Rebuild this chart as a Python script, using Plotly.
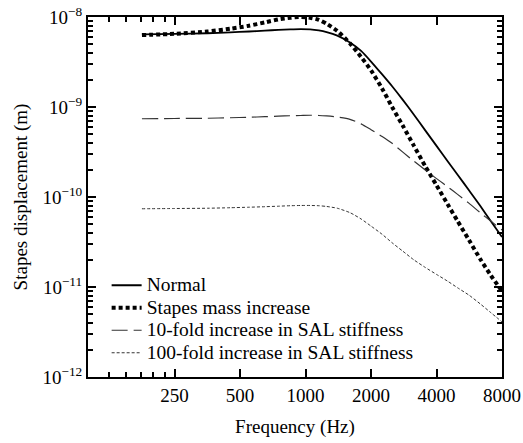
import plotly.graph_objects as go

freq = [177, 250, 354, 450, 550, 650, 750, 850, 950, 1050, 1150, 1250, 1400, 1600,
        1800, 2000, 2250, 2500, 2800, 3150, 3550, 4000, 4500, 5000, 5650, 6350, 7100, 8000]

normal = [6.4e-9, 6.5e-9, 6.6e-9, 6.75e-9, 6.9e-9, 7.05e-9, 7.2e-9, 7.3e-9, 7.35e-9, 7.3e-9,
          7.1e-9, 6.8e-9, 6.2e-9, 5.2e-9, 4.2e-9, 3.2e-9, 2.3e-9, 1.7e-9, 1.2e-9, 8.2e-10,
          5.5e-10, 3.7e-10, 2.5e-10, 1.77e-10, 1.18e-10, 8.0e-11, 5.4e-11, 3.6e-11]

stapes_mass = [6.3e-9, 6.5e-9, 6.9e-9, 7.4e-9, 8.0e-9, 8.7e-9, 9.4e-9, 9.8e-9, 1.0e-8, 9.8e-9,
               9.3e-9, 8.4e-9, 7.0e-9, 5.1e-9, 3.6e-9, 2.55e-9, 1.6e-9, 1.0e-9, 6.2e-10, 3.7e-10,
               2.2e-10, 1.35e-10, 8.3e-11, 5.4e-11, 3.3e-11, 2.05e-11, 1.35e-11, 9e-12]

sal_10 = [7.4e-10, 7.45e-10, 7.5e-10, 7.6e-10, 7.7e-10, 7.8e-10, 7.9e-10, 8.0e-10, 8.05e-10, 8.1e-10,
          8.05e-10, 7.95e-10, 7.75e-10, 7.3e-10, 6.5e-10, 5.6e-10, 4.7e-10, 3.95e-10, 3.15e-10, 2.5e-10,
          2.0e-10, 1.6e-10, 1.3e-10, 1.07e-10, 8.5e-11, 6.7e-11, 5.4e-11, 4.3e-11]

sal_100 = [7.4e-11, 7.45e-11, 7.5e-11, 7.6e-11, 7.7e-11, 7.8e-11, 7.9e-11, 8.0e-11, 8.05e-11, 8.05e-11,
           8.0e-11, 7.85e-11, 7.5e-11, 6.7e-11, 5.7e-11, 4.75e-11, 3.85e-11, 3.1e-11, 2.5e-11, 2.0e-11,
           1.65e-11, 1.38e-11, 1.16e-11, 9.8e-12, 8.1e-12, 6.5e-12, 5.2e-12, 4.1e-12]

series_names = ["Normal", "Stapes mass increase",
                "10-fold increase in SAL stiffness", "100-fold increase in SAL stiffness"]

x_tickvals = [250, 500, 1000, 2000, 4000, 8000]
x_ticktext = ["250", "500", "1000", "2000", "4000", "8000"]
x_minor = [125, 150, 175, 200, 225]
y_tickvals = [1e-12, 1e-11, 1e-10, 1e-9, 1e-8]
y_ticktext = ["10<sup>\u221212</sup>", "10<sup>\u221211</sup>", "10<sup>\u221210</sup>",
              "10<sup>\u22129</sup>", "10<sup>\u22128</sup>"]
y_minor = [m * 10.0 ** e for e in range(-12, -8) for m in range(2, 10)]

X_RANGE = [2, 3.90309]
Y_RANGE = [-12, -8]
FONT = "Liberation Serif"
AX = "#000000"


def leg(name):
    return "<span style='font-size:19.5px'>" + name + "</span>"


fig = go.Figure()
fig.add_trace(go.Scatter(x=freq, y=normal, mode="lines", name=leg(series_names[0]),
                         line=dict(color="black", width=1.8, shape="spline", smoothing=0.6)))
fig.add_trace(go.Scatter(x=freq, y=stapes_mass, mode="lines", name=leg(series_names[1]),
                         line=dict(color="black", width=4, dash="4px,3px", shape="spline", smoothing=0.6)))
fig.add_trace(go.Scatter(x=freq, y=sal_10, mode="lines", name=leg(series_names[2]),
                         line=dict(color="#333333", width=1.2, dash="16px,6px", shape="spline", smoothing=0.6)))
fig.add_trace(go.Scatter(x=freq, y=sal_100, mode="lines", name=leg(series_names[3]),
                         line=dict(color="#333333", width=1, dash="3px,2px", shape="spline", smoothing=0.6)))
# empty trace so the minor-tick overlay axes are drawn
fig.add_trace(go.Scatter(x=[None], y=[None], xaxis="x2", yaxis="y2", showlegend=False,
                         hoverinfo="skip", mode="lines"))

fig.update_layout(
    width=523, height=443,
    margin=dict(l=88, r=21, t=17, b=66, autoexpand=False),
    paper_bgcolor="white", plot_bgcolor="white",
    font=dict(family=FONT, size=19, color="black"),
    showlegend=True,
    legend=dict(x=0.045, y=0.30, xanchor="left", yanchor="top",
                bgcolor="rgba(0,0,0,0)", font=dict(family=FONT, size=15),
                tracegroupgap=0, itemwidth=30),
    xaxis=dict(
        type="log", range=X_RANGE, automargin=False,
        tickmode="array", tickvals=x_tickvals, ticktext=x_ticktext,
        ticks="inside", ticklen=8, tickwidth=2, tickcolor=AX,
        showline=True, linecolor=AX, linewidth=2, mirror="ticks",
        showgrid=False, zeroline=False,
        title=dict(text="Frequency (Hz)", font=dict(family=FONT, size=19), standoff=15),
        tickfont=dict(family=FONT, size=19),
    ),
    yaxis=dict(
        type="log", range=Y_RANGE, automargin=False,
        tickmode="array", tickvals=y_tickvals, ticktext=y_ticktext,
        ticks="inside", ticklen=8, tickwidth=2, tickcolor=AX,
        showline=True, linecolor=AX, linewidth=2, mirror="ticks",
        showgrid=False, zeroline=False,
        title=dict(text="Stapes displacement (m)", font=dict(family=FONT, size=19), standoff=10),
        tickfont=dict(family=FONT, size=19),
    ),
    xaxis2=dict(
        type="log", range=X_RANGE, overlaying="x", anchor="y2", side="bottom",
        automargin=False, tickmode="array", tickvals=x_minor, showticklabels=False,
        ticks="inside", ticklen=5, tickwidth=2, tickcolor=AX,
        showline=False, mirror="ticks", showgrid=False, zeroline=False,
    ),
    yaxis2=dict(
        type="log", range=Y_RANGE, overlaying="y", anchor="x2", side="left",
        automargin=False, tickmode="array", tickvals=y_minor, showticklabels=False,
        ticks="inside", ticklen=5, tickwidth=2, tickcolor=AX,
        showline=False, mirror="ticks", showgrid=False, zeroline=False,
    ),
)

fig.write_html("out.html", config={"displayModeBar": False},
               post_script="document.body.style.margin='0';")
